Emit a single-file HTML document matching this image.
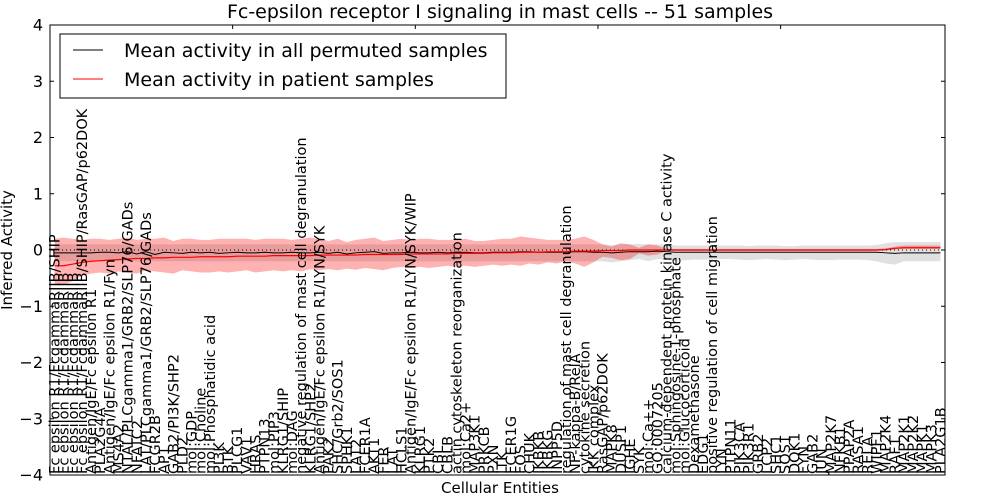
<!DOCTYPE html>
<html><head><meta charset="utf-8"><style>
html,body{margin:0;padding:0;background:#fff;}
svg{display:block;font-family:"DejaVu Sans","Liberation Sans",sans-serif;}
</style></head><body>
<svg id="chart" width="1000" height="500" viewBox="0 0 1000 500">
<rect x="0" y="0" width="1000" height="500" fill="#fff"/>
<text x="500" y="18" font-size="19" text-anchor="middle">Fc-epsilon receptor I signaling in mast cells -- 51 samples</text>
<text x="500" y="493" font-size="15" text-anchor="middle">Cellular Entities</text>
<text transform="translate(12,250) rotate(-90)" font-size="15" text-anchor="middle">Inferred Activity</text>
<g id="plot"></g>
</svg>
<script>
const entities = ["Fc epsilon R1/FcgammaRIIB/SHIP","Fc epsilon R1/FcgammaRIIB","Fc epsilon R1/FcgammaRIIB","Fc epsilon R1/FcgammaRIIB/SHIP/RasGAP/p62DOK","Antigen/IgE/Fc epsilon R1","PLA2G4A","Antigen/IgE/Fc epsilon R1/Fyn","MS4A2","NTAL/PLCgamma1/GRB2/SLP76/GADs","NFATC2","LAT/PLCgamma1/GRB2/SLP76/GADs","FCGR2B","AP1","GAB2/PI3K/SHP2","PLD2","mol:GDP","mol:Choline","mol:Phosphatidic acid","PI3K","BTK","PLCG1","VAV1","HRAS","PTPN13","mol:PIP3","KLRG1/SHIP","mol:DAG","negative regulation of mast cell degranulation","KLRG1/SHP2","Antigen/IgE/Fc epsilon R1/LYN/SYK","PAK2","SHC/Grb2/SOS1","SPHK1","LAT2","FCER1A","AKT1","FER","LAT","HCLS1","Antigen/IgE/Fc epsilon R1/LYN/SYK/WIP","KLRG1","PTK2","CBL","CBLB","actin cytoskeleton reorganization","mol:Ca2+","MAP3K1","PRKCB","PXN","ITK","FCER1G","FOS","CHUK","IKBKB","IKBKG","INPP5D","regulation of mast cell degranulation","NF-kappa-B/RelA","cytokine secretion","IKK complex","RasGAP/p62DOK","MAPK8","DUSP1","IGHE","SYK","mol:Ca++","GO:0007205","calcium-dependent protein kinase C activity","mol:Sphingosine-1-phosphate","mol:Glucocorticoid","Dexamethasone","EDG1","positive regulation of cell migration","LYN","PTPN11","PIK3CA","PIK3R1","GRB2","LCP2","SHC1","SOS1","DOK1","FYN","GAB2","JUN","MAP2K7","NFKB1","PPAP2A","RASA1","RELA","WIPF1","MAP2K4","RAF1","MAP2K1","MAP2K2","MAPK1","MAPK3","PLA2G1B"];
const yTicks = [4,3,2,1,0,-1,-2,-3,-4];
const redMean = [-0.28,-0.28,-0.25,-0.22,-0.2,-0.19,-0.18,-0.17,-0.16,-0.15,-0.15,-0.14,-0.14,-0.13,-0.13,-0.13,-0.12,-0.12,-0.12,-0.12,-0.11,-0.11,-0.11,-0.11,-0.1,-0.1,-0.1,-0.1,-0.1,-0.09,-0.09,-0.09,-0.09,-0.09,-0.08,-0.08,-0.08,-0.08,-0.08,-0.07,-0.07,-0.07,-0.07,-0.07,-0.06,-0.06,-0.06,-0.06,-0.05,-0.05,-0.05,-0.04,-0.04,-0.04,-0.03,-0.03,-0.03,-0.02,-0.02,-0.02,-0.01,-0.01,-0.01,0,0,0,0,0,0,0,0,0,0,0,0,0,0,0,0,0,0,0,0,0,0,0,0,0,0,0,0,0.01,0.03,0.04,0.04,0.04,0.04,0.04];
const redHi = [0.2,0.22,0.2,0.18,0.2,0.2,0.18,0.2,0.22,0.18,0.2,0.2,0.22,0.16,0.2,0.2,0.18,0.18,0.2,0.2,0.2,0.2,0.18,0.2,0.2,0.2,0.18,0.2,0.22,0.2,0.16,0.2,0.14,0.18,0.2,0.22,0.16,0.18,0.2,0.18,0.2,0.2,0.18,0.18,0.18,0.2,0.16,0.16,0.18,0.2,0.2,0.24,0.22,0.2,0.18,0.18,0.18,0.2,0.24,0.18,0.1,0.06,0.12,0.1,0.04,0.1,0.08,0.02,0.02,0.02,0.02,0.02,0.02,0.02,0.02,0.02,0.02,0.02,0.02,0.02,0.02,0.02,0.02,0.02,0.02,0.02,0.02,0.02,0.02,0.02,0.02,0.03,0.06,0.08,0.08,0.08,0.08,0.08];
const redLo = [-0.6,-0.62,-0.55,-0.45,-0.42,-0.4,-0.42,-0.38,-0.4,-0.42,-0.36,-0.38,-0.4,-0.42,-0.36,-0.38,-0.4,-0.4,-0.38,-0.4,-0.38,-0.36,-0.4,-0.38,-0.36,-0.38,-0.36,-0.38,-0.34,-0.36,-0.34,-0.36,-0.33,-0.35,-0.32,-0.34,-0.36,-0.32,-0.3,-0.32,-0.3,-0.32,-0.3,-0.28,-0.3,-0.28,-0.3,-0.28,-0.26,-0.28,-0.26,-0.28,-0.24,-0.26,-0.22,-0.24,-0.2,-0.24,-0.3,-0.22,-0.12,-0.14,-0.18,-0.16,-0.06,-0.1,-0.08,-0.02,-0.02,-0.02,-0.02,-0.02,-0.02,-0.02,-0.02,-0.02,-0.02,-0.02,-0.02,-0.02,-0.02,-0.02,-0.02,-0.02,-0.02,-0.02,-0.02,-0.02,-0.02,-0.02,-0.02,-0.01,0.01,0.02,0.02,0.02,0.02,0.02];
const permMean = [-0.05,-0.05,-0.05,-0.05,-0.05,-0.04,-0.04,-0.05,-0.03,-0.07,-0.03,-0.08,-0.04,-0.05,-0.06,-0.04,-0.05,-0.04,-0.06,-0.05,-0.04,-0.05,-0.05,-0.04,-0.05,-0.05,-0.04,-0.05,-0.05,-0.04,-0.06,-0.04,-0.07,-0.05,-0.04,-0.03,-0.06,-0.05,-0.05,-0.04,-0.05,-0.05,-0.04,-0.05,-0.05,-0.04,-0.05,-0.05,-0.04,-0.04,-0.04,-0.03,-0.03,-0.04,-0.04,-0.04,-0.04,-0.03,-0.03,-0.04,-0.04,-0.05,-0.04,-0.03,-0.03,-0.03,-0.02,-0.03,-0.04,-0.04,-0.04,-0.04,-0.04,-0.04,-0.04,-0.04,-0.04,-0.04,-0.04,-0.04,-0.04,-0.04,-0.04,-0.04,-0.04,-0.04,-0.04,-0.04,-0.04,-0.04,-0.04,-0.05,-0.06,-0.05,-0.05,-0.05,-0.05,-0.05];
const permHi = [0.1,0.1,0.1,0.1,0.1,0.1,0.1,0.1,0.1,0.1,0.1,0.1,0.1,0.1,0.1,0.1,0.1,0.1,0.1,0.1,0.1,0.1,0.1,0.1,0.1,0.1,0.1,0.1,0.1,0.1,0.1,0.1,0.1,0.1,0.1,0.1,0.1,0.1,0.1,0.1,0.1,0.1,0.1,0.1,0.1,0.1,0.1,0.1,0.1,0.1,0.1,0.1,0.1,0.1,0.1,0.1,0.1,0.1,0.1,0.1,0.1,0.09,0.1,0.1,0.11,0.1,0.1,0.1,0.08,0.08,0.08,0.08,0.08,0.08,0.08,0.08,0.07,0.08,0.08,0.08,0.07,0.07,0.08,0.08,0.08,0.08,0.08,0.08,0.08,0.08,0.09,0.12,0.14,0.14,0.14,0.14,0.14,0.14];
const permLo = [-0.2,-0.2,-0.2,-0.2,-0.2,-0.2,-0.2,-0.2,-0.2,-0.2,-0.2,-0.2,-0.2,-0.2,-0.2,-0.2,-0.2,-0.2,-0.2,-0.2,-0.2,-0.2,-0.2,-0.2,-0.2,-0.2,-0.2,-0.2,-0.2,-0.2,-0.2,-0.2,-0.2,-0.2,-0.2,-0.2,-0.2,-0.2,-0.2,-0.2,-0.2,-0.2,-0.2,-0.2,-0.2,-0.2,-0.2,-0.2,-0.2,-0.2,-0.2,-0.2,-0.2,-0.2,-0.2,-0.2,-0.2,-0.2,-0.2,-0.2,-0.2,-0.22,-0.2,-0.18,-0.16,-0.2,-0.16,-0.16,-0.2,-0.18,-0.17,-0.17,-0.17,-0.16,-0.16,-0.17,-0.18,-0.17,-0.16,-0.17,-0.18,-0.17,-0.16,-0.17,-0.18,-0.18,-0.17,-0.17,-0.17,-0.18,-0.2,-0.24,-0.26,-0.2,-0.2,-0.2,-0.2,-0.2];

const NS = "http://www.w3.org/2000/svg";
const L = 50, R = 945, T = 25, B = 475;
const n = entities.length;
const xS = i => L + (R - L) * (i + 0.5) / n;
const yS = v => T + (4 - v) * (B - T) / 8;
const plot = document.getElementById('plot');
function mk(tag, attrs, parent) {
  const el = document.createElementNS(NS, tag);
  for (const k in attrs) el.setAttribute(k, attrs[k]);
  (parent || plot).appendChild(el);
  return el;
}
function band(hi, lo) {
  let d = "";
  hi.forEach((v, i) => { d += (i ? "L" : "M") + xS(i) + "," + yS(v); });
  for (let i = lo.length - 1; i >= 0; i--) d += "L" + xS(i) + "," + yS(lo[i]);
  return d + "Z";
}
function line(arr) {
  return arr.map((v, i) => (i ? "L" : "M") + xS(i) + "," + yS(v)).join("");
}
const g1 = mk('path', {d: band(permHi, permLo), fill: "#000", "fill-opacity": 0.12, stroke: "none"});


const r1 = mk('path', {d: band(redHi, redLo), fill: "#ff0000", "fill-opacity": 0.3, stroke: "none"});


const zl = mk('line', {x1: L, x2: R, y1: yS(0), y2: yS(0), stroke: "#000", "stroke-width": 1, "stroke-dasharray": "1,3"});


const pl = mk('path', {d: line(permMean), fill: "none", stroke: "#000", "stroke-width": 1});


const rl = mk('path', {d: line(redMean), fill: "none", stroke: "#ff0000", "stroke-width": 1.2});



entities.forEach((name, i) => {
  const t = mk('text', {transform: "translate(" + (xS(i) + 5) + "," + (B - 1) + ") rotate(-90)", "font-size": 14.5, fill: "#000"});
  t.textContent = name;
  
  
});
yTicks.forEach(v => {
  const y = yS(v);
  const a = mk('line', {x1: L, x2: L + 4, y1: y, y2: y, stroke: "#000"});
  
  
  const b = mk('line', {x1: R - 4, x2: R, y1: y, y2: y, stroke: "#000"});
  
  
  const t = mk('text', {x: L - 7, y: y + 5.5, "font-size": 16, "text-anchor": "end"});
  t.textContent = v < 0 ? "\u2212" + (-v) : String(v);
  
  
});
[20,40,60,80].forEach(v => {
  const x = L + (R - L) * v / n;
  const a = mk('line', {x1: x, x2: x, y1: T, y2: T + 4, stroke: "#000"});
  
  
});
const fr = mk('rect', {x: L, y: T, width: R - L, height: B - T, fill: "none", stroke: "#000", "stroke-width": 1});


const lg = mk('g', {});


mk('rect', {x: 60, y: 34, width: 446, height: 64, fill: "#fff", stroke: "#000", "stroke-width": 1}, lg);
mk('line', {x1: 73, x2: 103, y1: 50, y2: 50, stroke: "#000"}, lg);
mk('line', {x1: 73, x2: 103, y1: 79, y2: 79, stroke: "#ff0000"}, lg);
const l1 = mk('text', {x: 124, y: 57, "font-size": 19}, lg);
l1.textContent = "Mean activity in all permuted samples";


const l2 = mk('text', {x: 124, y: 86, "font-size": 19}, lg);
l2.textContent = "Mean activity in patient samples";


</script>
</body></html>
